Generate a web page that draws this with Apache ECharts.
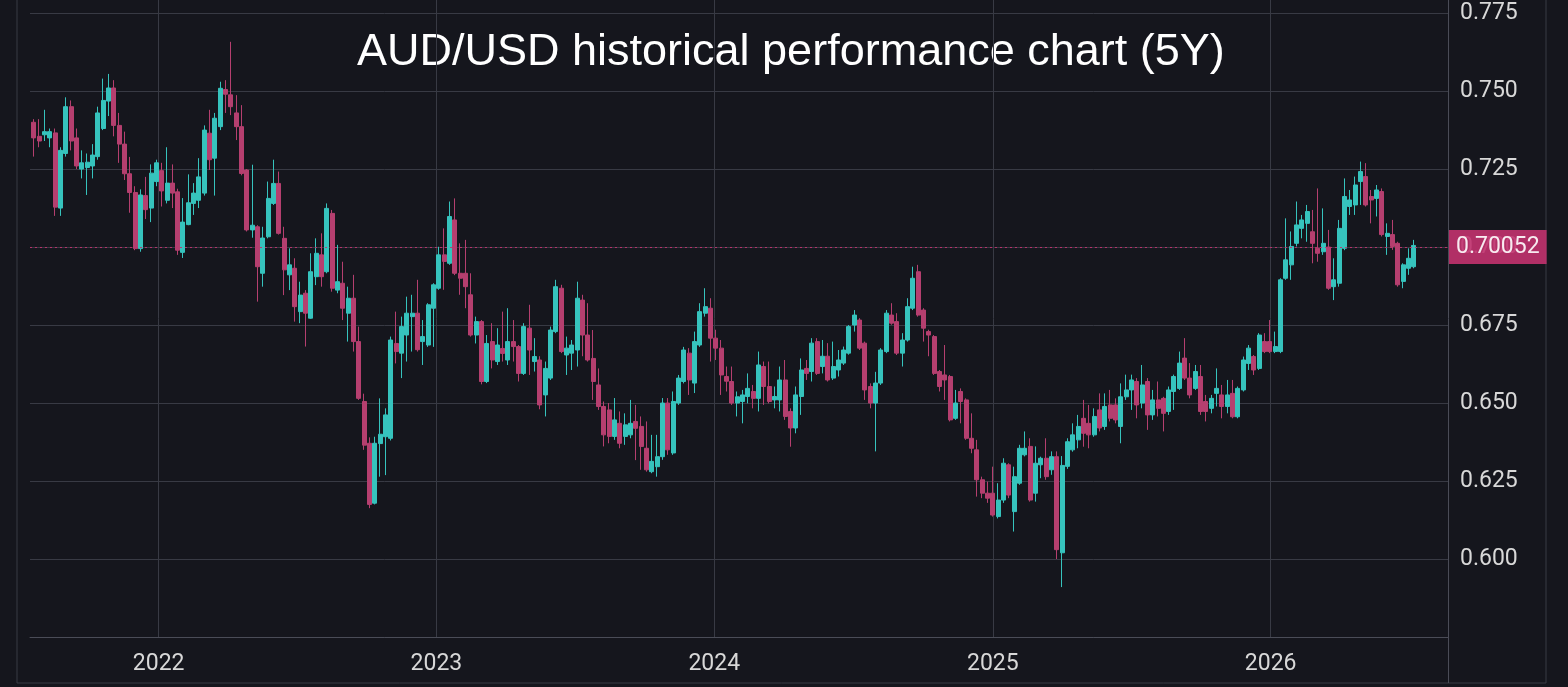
<!DOCTYPE html>
<html>
<head>
<meta charset="utf-8">
<style>
  html, body { margin: 0; padding: 0; background: #15161d; }
  #chart { width: 1568px; height: 687px; }
</style>
<script src="https://cdn.jsdelivr.net/npm/echarts@6/dist/echarts.min.js"></script>
</head>
<body>
<div id="chart"></div>
<script>
const chartTitle = 'AUD/USD historical performance chart (5Y)';
// first weekly candle (mid-week), one candle every 7 days after it
const firstWeek = [2021, 6, 21];
const xStart = '2021-07-16';
const xEnd = '2026-08-22';
const yMin = 0.575;
const yMax = 0.7792;
const yStep = 0.025;
const lastPrice = 0.70052;

// weekly candles as [open, close, low, high]
const weeks2021 = [
  [0.7400, 0.7350, 0.7290, 0.7410], [0.7355, 0.7340, 0.7320, 0.7410], [0.7360, 0.7370, 0.7340, 0.7440],
  [0.7350, 0.7370, 0.7320, 0.7380], [0.7366, 0.7128, 0.7100, 0.7380], [0.7125, 0.7310, 0.7100, 0.7320],
  [0.7300, 0.7450, 0.7290, 0.7480], [0.7450, 0.7340, 0.7310, 0.7470], [0.7350, 0.7260, 0.7250, 0.7380],
  [0.7250, 0.7270, 0.7220, 0.7310], [0.7255, 0.7272, 0.7167, 0.7300], [0.7260, 0.7295, 0.7220, 0.7330],
  [0.7290, 0.7430, 0.7280, 0.7450], [0.7380, 0.7470, 0.7375, 0.7540], [0.7468, 0.7510, 0.7420, 0.7555],
  [0.7510, 0.7390, 0.7355, 0.7535], [0.7390, 0.7330, 0.7270, 0.7430], [0.7330, 0.7235, 0.7215, 0.7370],
  [0.7235, 0.7175, 0.7110, 0.7289], [0.7175, 0.6995, 0.6990, 0.7195], [0.6995, 0.7167, 0.6985, 0.7185],
  [0.7165, 0.7120, 0.7090, 0.7225], [0.7125, 0.7237, 0.7080, 0.7265], [0.7210, 0.7270, 0.7195, 0.7280],
];

const weeks2022 = [
  [0.7245, 0.7180, 0.7130, 0.7270], [0.7150, 0.7205, 0.7140, 0.7320], [0.7205, 0.7173, 0.7125, 0.7265],
  [0.7177, 0.6990, 0.6975, 0.7187], [0.6983, 0.7080, 0.6965, 0.7157], [0.7072, 0.7142, 0.7070, 0.7233],
  [0.7140, 0.7173, 0.7103, 0.7205], [0.7150, 0.7225, 0.7125, 0.7285], [0.7173, 0.7375, 0.7165, 0.7390],
  [0.7365, 0.7280, 0.7247, 0.7440], [0.7285, 0.7413, 0.7165, 0.7430], [0.7386, 0.7509, 0.7375, 0.7530],
  [0.7505, 0.7490, 0.7430, 0.7535], [0.7488, 0.7450, 0.7423, 0.7658], [0.7430, 0.7386, 0.7343, 0.7487],
  [0.7386, 0.7236, 0.7230, 0.7455], [0.7247, 0.7055, 0.7050, 0.7250], [0.7055, 0.7070, 0.7030, 0.7264],
  [0.7065, 0.6937, 0.6825, 0.7070], [0.6916, 0.7029, 0.6873, 0.7065], [0.7033, 0.7156, 0.7028, 0.7210],
  [0.7140, 0.7204, 0.7135, 0.7280], [0.7204, 0.7044, 0.7040, 0.7242], [0.7028, 0.6927, 0.6846, 0.7065],
  [0.6911, 0.6943, 0.6862, 0.6996], [0.6932, 0.6809, 0.6761, 0.6964], [0.6793, 0.6846, 0.6756, 0.6889],
  [0.6852, 0.6788, 0.6681, 0.6862], [0.6772, 0.6921, 0.6770, 0.6980], [0.6905, 0.6980, 0.6878, 0.7028],
  [0.6975, 0.6905, 0.6873, 0.7044], [0.6921, 0.7124, 0.6916, 0.7140], [0.7108, 0.6868, 0.6857, 0.7119],
  [0.6862, 0.6889, 0.6852, 0.7007], [0.6884, 0.6804, 0.6766, 0.6953], [0.6788, 0.6836, 0.6697, 0.6873],
  [0.6836, 0.6697, 0.6665, 0.6911], [0.6697, 0.6515, 0.6510, 0.6745], [0.6505, 0.6365, 0.6350, 0.6530],
  [0.6371, 0.6175, 0.6163, 0.6390], [0.6179, 0.6371, 0.6175, 0.6392], [0.6370, 0.6400, 0.6264, 0.6515],
  [0.6392, 0.6462, 0.6269, 0.6483], [0.6387, 0.6702, 0.6380, 0.6713], [0.6691, 0.6665, 0.6627, 0.6793],
  [0.6660, 0.6745, 0.6580, 0.6777], [0.6718, 0.6788, 0.6633, 0.6841], [0.6777, 0.6788, 0.6665, 0.6847],
  [0.6788, 0.6671, 0.6665, 0.6895], [0.6697, 0.6713, 0.6622, 0.6766], [0.6686, 0.6815, 0.6680, 0.6820],
  [0.6804, 0.6879, 0.6680, 0.6884],
];

const weeks2023 = [
  [0.6868, 0.6975, 0.6863, 0.7001], [0.6975, 0.6954, 0.6863, 0.7060], [0.6948, 0.7098, 0.6943, 0.7146],
  [0.7087, 0.6916, 0.6910, 0.7156], [0.6916, 0.6900, 0.6847, 0.7012], [0.6916, 0.6873, 0.6804, 0.7023],
  [0.6847, 0.6718, 0.6713, 0.6916], [0.6718, 0.6761, 0.6691, 0.6777], [0.6761, 0.6569, 0.6560, 0.6766],
  [0.6569, 0.6691, 0.6564, 0.6718], [0.6697, 0.6638, 0.6611, 0.6756], [0.6633, 0.6686, 0.6622, 0.6740],
  [0.6675, 0.6659, 0.6633, 0.6793], [0.6638, 0.6697, 0.6622, 0.6804], [0.6697, 0.6681, 0.6633, 0.6766],
  [0.6681, 0.6595, 0.6569, 0.6686], [0.6595, 0.6745, 0.6590, 0.6756], [0.6740, 0.6670, 0.6590, 0.6815],
  [0.6633, 0.6649, 0.6601, 0.6708], [0.6638, 0.6494, 0.6480, 0.6650], [0.6526, 0.6611, 0.6457, 0.6633],
  [0.6580, 0.6734, 0.6574, 0.6745], [0.6729, 0.6873, 0.6724, 0.6895], [0.6868, 0.6665, 0.6660, 0.6879],
  [0.6654, 0.6676, 0.6590, 0.6713], [0.6660, 0.6686, 0.6606, 0.6702], [0.6670, 0.6836, 0.6617, 0.6889],
  [0.6830, 0.6718, 0.6650, 0.6847], [0.6718, 0.6638, 0.6633, 0.6820], [0.6643, 0.6569, 0.6510, 0.6734],
  [0.6558, 0.6489, 0.6478, 0.6611], [0.6489, 0.6398, 0.6361, 0.6505], [0.6478, 0.6393, 0.6371, 0.6500],
  [0.6393, 0.6446, 0.6382, 0.6516], [0.6435, 0.6371, 0.6355, 0.6473], [0.6393, 0.6430, 0.6366, 0.6467],
  [0.6398, 0.6435, 0.6387, 0.6510], [0.6441, 0.6419, 0.6317, 0.6494], [0.6425, 0.6361, 0.6286, 0.6457],
  [0.6355, 0.6286, 0.6280, 0.6441], [0.6280, 0.6313, 0.6275, 0.6398], [0.6296, 0.6328, 0.6264, 0.6398],
  [0.6328, 0.6500, 0.6318, 0.6516], [0.6500, 0.6350, 0.6334, 0.6516], [0.6340, 0.6505, 0.6334, 0.6537],
  [0.6500, 0.6580, 0.6494, 0.6590], [0.6569, 0.6670, 0.6563, 0.6680], [0.6660, 0.6574, 0.6526, 0.6676],
  [0.6564, 0.6697, 0.6532, 0.6729], [0.6686, 0.6793, 0.6680, 0.6820], [0.6788, 0.6809, 0.6777, 0.6868],
  [0.6804, 0.6708, 0.6633, 0.6836],
];

const weeks2024 = [
  [0.6708, 0.6676, 0.6638, 0.6735], [0.6676, 0.6590, 0.6526, 0.6702], [0.6585, 0.6570, 0.6537, 0.6617],
  [0.6569, 0.6500, 0.6494, 0.6617], [0.6500, 0.6520, 0.6457, 0.6537], [0.6505, 0.6526, 0.6435, 0.6542],
  [0.6521, 0.6547, 0.6499, 0.6595], [0.6537, 0.6515, 0.6483, 0.6558], [0.6515, 0.6622, 0.6473, 0.6665],
  [0.6617, 0.6553, 0.6494, 0.6633], [0.6553, 0.6505, 0.6499, 0.6633], [0.6510, 0.6521, 0.6483, 0.6553],
  [0.6510, 0.6574, 0.6473, 0.6617], [0.6574, 0.6457, 0.6446, 0.6638], [0.6473, 0.6420, 0.6360, 0.6483],
  [0.6420, 0.6526, 0.6403, 0.6553], [0.6521, 0.6606, 0.6462, 0.6643], [0.6611, 0.6595, 0.6574, 0.6638],
  [0.6601, 0.6692, 0.6569, 0.6708], [0.6697, 0.6595, 0.6590, 0.6708], [0.6617, 0.6650, 0.6595, 0.6702],
  [0.6650, 0.6574, 0.6569, 0.6692], [0.6580, 0.6617, 0.6574, 0.6697], [0.6606, 0.6638, 0.6585, 0.6670],
  [0.6628, 0.6670, 0.6622, 0.6681], [0.6660, 0.6745, 0.6655, 0.6750], [0.6750, 0.6782, 0.6729, 0.6798],
  [0.6766, 0.6676, 0.6670, 0.6772], [0.6692, 0.6542, 0.6510, 0.6697], [0.6553, 0.6500, 0.6483, 0.6563],
  [0.6500, 0.6564, 0.6345, 0.6600], [0.6564, 0.6670, 0.6558, 0.6676], [0.6665, 0.6788, 0.6660, 0.6798],
  [0.6782, 0.6756, 0.6751, 0.6820], [0.6761, 0.6660, 0.6654, 0.6788], [0.6660, 0.6702, 0.6617, 0.6724],
  [0.6702, 0.6809, 0.6697, 0.6836], [0.6804, 0.6900, 0.6798, 0.6937], [0.6921, 0.6782, 0.6777, 0.6943],
  [0.6798, 0.6740, 0.6697, 0.6804], [0.6729, 0.6718, 0.6650, 0.6735], [0.6713, 0.6595, 0.6590, 0.6718],
  [0.6601, 0.6553, 0.6537, 0.6606], [0.6590, 0.6574, 0.6510, 0.6686], [0.6585, 0.6446, 0.6441, 0.6590],
  [0.6451, 0.6500, 0.6446, 0.6542], [0.6537, 0.6505, 0.6435, 0.6547], [0.6510, 0.6387, 0.6382, 0.6515],
  [0.6387, 0.6355, 0.6339, 0.6467], [0.6350, 0.6254, 0.6200, 0.6382], [0.6254, 0.6211, 0.6195, 0.6264],
  [0.6211, 0.6195, 0.6180, 0.6248], [0.6211, 0.6141, 0.6136, 0.6296],
];

const weeks2025 = [
  [0.6136, 0.6189, 0.6130, 0.6243], [0.6189, 0.6307, 0.6180, 0.6323], [0.6302, 0.6205, 0.6195, 0.6307],
  [0.6152, 0.6264, 0.6088, 0.6296], [0.6243, 0.6355, 0.6238, 0.6366], [0.6334, 0.6355, 0.6329, 0.6409],
  [0.6361, 0.6189, 0.6184, 0.6387], [0.6211, 0.6307, 0.6184, 0.6361], [0.6302, 0.6323, 0.6259, 0.6328],
  [0.6323, 0.6264, 0.6254, 0.6387], [0.6286, 0.6328, 0.6270, 0.6345], [0.6328, 0.6030, 0.6000, 0.6345],
  [0.6020, 0.6300, 0.5910, 0.6330], [0.6297, 0.6376, 0.6289, 0.6387], [0.6350, 0.6398, 0.6344, 0.6435],
  [0.6382, 0.6425, 0.6355, 0.6462], [0.6451, 0.6403, 0.6360, 0.6510], [0.6435, 0.6398, 0.6355, 0.6494],
  [0.6398, 0.6457, 0.6392, 0.6483], [0.6478, 0.6420, 0.6409, 0.6531], [0.6425, 0.6489, 0.6414, 0.6531],
  [0.6494, 0.6451, 0.6441, 0.6542], [0.6494, 0.6446, 0.6435, 0.6515], [0.6425, 0.6520, 0.6371, 0.6563],
  [0.6520, 0.6542, 0.6510, 0.6591], [0.6542, 0.6574, 0.6478, 0.6591], [0.6569, 0.6494, 0.6451, 0.6580],
  [0.6500, 0.6558, 0.6483, 0.6622], [0.6569, 0.6462, 0.6414, 0.6580], [0.6462, 0.6510, 0.6446, 0.6542],
  [0.6510, 0.6483, 0.6457, 0.6569], [0.6515, 0.6467, 0.6409, 0.6520], [0.6473, 0.6542, 0.6462, 0.6553],
  [0.6537, 0.6585, 0.6478, 0.6591], [0.6547, 0.6628, 0.6542, 0.6665], [0.6644, 0.6580, 0.6574, 0.6708],
  [0.6580, 0.6526, 0.6515, 0.6628], [0.6547, 0.6601, 0.6542, 0.6622], [0.6585, 0.6473, 0.6462, 0.6622],
  [0.6505, 0.6473, 0.6441, 0.6526], [0.6483, 0.6515, 0.6467, 0.6526], [0.6531, 0.6547, 0.6489, 0.6611],
  [0.6526, 0.6489, 0.6451, 0.6558], [0.6489, 0.6526, 0.6467, 0.6574], [0.6531, 0.6456, 0.6451, 0.6574],
  [0.6456, 0.6547, 0.6451, 0.6553], [0.6542, 0.6638, 0.6537, 0.6649], [0.6627, 0.6676, 0.6606, 0.6686],
  [0.6649, 0.6606, 0.6590, 0.6654], [0.6611, 0.6718, 0.6606, 0.6724], [0.6697, 0.6665, 0.6660, 0.6724],
  [0.6697, 0.6665, 0.6660, 0.6766],
];

const weeks2026 = [
  [0.6665, 0.6681, 0.6660, 0.6729], [0.6665, 0.6895, 0.6660, 0.6900], [0.6900, 0.6959, 0.6895, 0.7092],
  [0.6943, 0.7002, 0.6895, 0.7050], [0.7012, 0.7071, 0.7002, 0.7146], [0.7060, 0.7087, 0.7028, 0.7103],
  [0.7076, 0.7114, 0.7017, 0.7135], [0.7049, 0.7012, 0.6948, 0.7119], [0.6996, 0.6980, 0.6953, 0.7188],
  [0.6985, 0.7012, 0.6975, 0.7124], [0.7000, 0.6868, 0.6863, 0.7055], [0.6873, 0.6895, 0.6830, 0.6964],
  [0.6884, 0.7060, 0.6873, 0.7087], [0.6996, 0.7162, 0.6990, 0.7220], [0.7130, 0.7151, 0.7103, 0.7183],
  [0.7135, 0.7199, 0.7103, 0.7226], [0.7210, 0.7242, 0.7135, 0.7274], [0.7226, 0.7135, 0.7130, 0.7269],
  [0.7162, 0.7151, 0.7076, 0.7183], [0.7156, 0.7183, 0.7098, 0.7199], [0.7178, 0.7040, 0.7034, 0.7188],
  [0.7034, 0.7044, 0.6975, 0.7076], [0.7040, 0.7002, 0.6991, 0.7087], [0.7012, 0.6879, 0.6873, 0.7017],
  [0.6890, 0.6943, 0.6868, 0.6948], [0.6932, 0.6964, 0.6911, 0.6996], [0.6937, 0.70052, 0.6932, 0.7023],
];

const candles = [...weeks2021, ...weeks2022, ...weeks2023, ...weeks2024, ...weeks2025, ...weeks2026];

const weekDates = candles.map((_, i) => {
  const d = new Date(firstWeek[0], firstWeek[1], firstWeek[2] + i * 7);
  return d.getTime();
});

const up = '#36c3bd';
const down = '#b53f6f';
const grid = '#383a44';
const axis = '#4a4c57';
const text = '#d8d8d8';

const chart = echarts.init(document.getElementById('chart'), null, { renderer: 'canvas' });

chart.setOption({
  backgroundColor: '#15161d',
  animation: false,
  grid: { left: 30, right: 120, top: 0, bottom: 50 },
  xAxis: {
    type: 'time',
    min: xStart,
    max: xEnd,
    splitNumber: 5,
    axisLine: { lineStyle: { color: axis } },
    axisTick: { show: false },
    axisLabel: { formatter: '{yyyy}', color: text, fontSize: 23, fontFamily: 'Roboto', margin: 16 },
    splitLine: { show: true, showMinLine: false, showMaxLine: false, lineStyle: { color: grid } },
  },
  yAxis: {
    type: 'value',
    position: 'right',
    min: yMin,
    max: yMax,
    interval: yStep,
    scale: true,
    axisLine: { show: true, lineStyle: { color: axis } },
    axisTick: { show: false },
    axisLabel: {
      color: text, fontSize: 23, fontFamily: 'Roboto', margin: 12,
      showMinLabel: false, showMaxLabel: false,
      formatter: (v) => v.toFixed(3),
    },
    splitLine: { showMaxLine: false, lineStyle: { color: grid } },
  },
  series: [{
    type: 'candlestick',
    barWidth: 4.5,
    data: candles.map((c, i) => [weekDates[i], ...c]),
    itemStyle: { color: up, color0: down, borderColor: up, borderColor0: down, borderWidth: 1 },
    markLine: {
      silent: true,
      symbol: 'none',
      data: [{ yAxis: lastPrice }],
      lineStyle: { color: '#c2326f', type: [2, 3], width: 1, opacity: 0.9 },
      label: {
        position: 'end',
        distance: 1,
        formatter: () => lastPrice.toFixed(5),
        color: '#ffffff',
        fontSize: 23,
        fontFamily: 'Roboto',
        backgroundColor: '#c2326f',
        padding: [6, 7, 5, 7],
      },
    },
  }],
  graphic: [
    {
      type: 'text',
      left: 357,
      top: 30,
      style: { text: chartTitle, fill: '#ffffff', font: '45px "Liberation Sans", sans-serif' },
    },
    {
      type: 'rect',
      shape: { x: 17, y: -2, width: 1529, height: 685 },
      style: { fill: 'none', stroke: grid, lineWidth: 1 },
      silent: true,
    },
    {
      type: 'line',
      shape: { x1: 1448.5, y1: 637, x2: 1448.5, y2: 683 },
      style: { stroke: axis, lineWidth: 1 },
      silent: true,
    },
  ],
});
</script>
</body>
</html>
